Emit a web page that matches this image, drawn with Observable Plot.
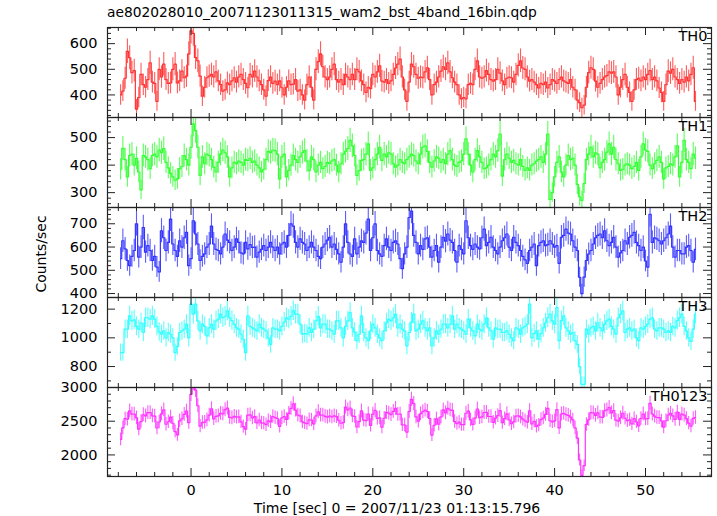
<!DOCTYPE html>
<html><head><meta charset="utf-8">
<script src="https://cdn.jsdelivr.net/npm/d3@7"></script>
<script src="https://cdn.jsdelivr.net/npm/@observablehq/plot@0.6"></script>
<style>
body{margin:0;background:#fff;}
#wrap{position:relative;width:717px;height:516px;font-family:"DejaVu Sans",sans-serif;color:#000;}
.txt{position:absolute;white-space:nowrap;line-height:1;}
</style>
</head><body><div id="wrap"></div>
<script>
// ---- data: count rates (counts/sec), 0.25 s bins starting at t = -7.75 s ----
const binWidth = 0.25;
const tStart = -7.75;
const th0 = [400,415,465,570, 545,487,495,345, 390,480,440,430, 460,525,450,445, 375,500,470,520, 460,445,447,500, 520,447,455,493, 467,473,560,650, 640,546,533,473, 395,430,467,473, 480,470,490,455, 440,415,420,447, 440,455,467,450, 470,480,460,445, 428,480,470,493, 470,455,440,420, 395,456,470,445, 454,440,455,428, 400,430,455,440, 442,460,415,420, 400,380,440,470, 430,380,500,530, 560,510,470,460, 470,500,520,460, 450,460,440,480, 470,460,480,460, 500,490,455,440, 410,430,425,480, 470,490,513,454, 450,460,445,455, 480,505,520,540, 470,420,375,450, 520,510,480,465, 470,467,490,506, 460,400,440,450, 470,493,510,500, 525,490,467,450, 440,400,385,390, 385,440,445,440, 500,533,470,465, 470,495,480,460, 454,460,500,485, 455,440,465,470, 467,450,480,515, 533,505,500,470, 454,460,450,440, 427,445,440,450, 427,440,460,454, 445,460,470,455, 450,445,460,430, 420,380,370,350, 360,430,487,506, 500,454,430,445, 460,470,475,490, 485,490,470,400, 430,460,480,430, 410,375,420,460, 465,455,470,460, 480,495,460,470, 455,427,410,375, 440,493,485,500, 470,460,445,460, 450,470,455,480, 506,375];
const th1 = [385,461,420,357, 435,440,400,425, 375,310,435,430, 420,387,435,440, 430,455,445,460, 410,390,370,357, 345,350,387,395, 435,420,400,465, 550,525,465,363, 430,405,440,435, 420,393,375,410, 440,455,445,430, 357,390,410,405, 415,410,400,420, 417,425,410,415, 400,390,375,385, 420,450,445,455, 453,440,350,430, 440,357,381,400, 435,420,410,430, 445,453,415,380, 430,420,375,400, 410,387,395,410, 405,415,420,400, 375,405,440,450, 460,490,470,435, 363,380,417,420, 440,477,381,390, 420,440,465,417, 440,430,445,440, 405,393,400,420, 410,405,420,430, 440,435,415,405, 440,465,470,450, 410,393,415,430, 425,410,420,405, 440,453,420,400, 395,410,415,440, 495,440,400,375, 420,453,430,410, 387,390,400,420, 440,430,453,513, 360,420,440,425, 410,417,405,400, 420,395,381,390, 381,400,405,415, 420,430,410,440, 513,275,300,357, 410,430,375,357, 400,435,420,425, 400,330,285,272, 333,420,440,465, 430,445,440,390, 410,420,447,477, 440,465,420,405, 381,385,400,405, 400,387,395,410, 381,430,477,455, 450,400,387,405, 417,430,410,350, 390,395,405,400, 430,470,357,410, 490,420,410,387, 440,425];
const th2 = [550,627,592,542, 520,560,585,700, 557,600,684,578, 606,585,542,560, 514,493,670,640, 585,620,720,613, 585,560,627,600, 640,663,520,550, 713,656,613,542, 560,571,600,613, 690,613,590,585, 571,600,656,630, 620,585,600,635, 620,575,571,620, 592,610,598,600, 557,578,590,606, 585,600,620,600, 585,600,571,613, 620,600,650,700, 690,620,600,635, 620,613,585,600, 620,600,585,560, 550,600,613,630, 642,600,613,590, 571,535,600,700, 620,570,560,635, 571,600,627,620, 660,720,585,640, 700,585,571,560, 606,635,600,585, 620,627,613,550, 507,571,600,727, 755,650,620,571, 606,590,635,640, 600,557,585,606, 535,600,642,625, 656,630,620,585, 535,606,590,571, 713,640,606,590, 613,600,592,640, 677,606,620,642, 600,585,571,600, 627,640,656,600, 585,642,620,606, 585,560,545,530, 585,600,613,520, 606,620,627,606, 610,627,613,600, 606,530,642,650, 677,660,656,627, 600,585,470,400, 471,542,570,585, 613,640,650,656, 640,670,627,606, 620,642,600,557, 575,585,627,613, 642,650,663,620, 606,585,600,540, 514,741,620,640, 635,627,613,627, 640,656,690,600, 557,585,585,571, 571,600,606,585, 535,590];
const th3 = [897,897,1060,1060, 1153,1118,1125,1080, 1060,1105,1037,1140, 1140,1130,1153,1130, 1080,1040,1025,1048, 1000,1037,1025,1000, 897,940,1037,1048, 1060,1095,1000,1235, 1165,1235,1118,1048, 1095,1080,1013,1070, 1095,1060,1118,1130, 1165,1140,1150,1188, 1140,1120,1095,1070, 1060,1025,990,897, 1153,1080,1070,1060, 1048,1095,1070,1060, 1048,1000,955,1070, 1060,1060,1048,1080, 1110,1140,1130,1150, 1190,1165,1165,1095, 1025,1030,1025,1070, 1037,1060,1118,1150, 1070,1095,1095,1060, 1060,1048,1025,1118, 1118,1070,1000,1080, 1118,1176,1070,1040, 980,1025,1153,1037, 1000,980,1048,1095, 1070,1025,1000,980, 1048,1105,1130,1118, 1140,1165,1070,1095, 1060,1048,944,1037, 1110,1165,1048,1060, 1095,1118,1070,1048, 1070,944,1000,1048, 1025,1060,1095,1095, 1070,1095,1153,1060, 1095,1070,1060,1048, 1025,1130,1070,1048, 1013,1095,1060,1048, 1095,1140,1070,1048, 990,1070,1060,1060, 1037,1037,1048,1025, 1000,980,1070,1060, 1025,1070,1080,1095, 1235,1000,1030,1048, 990,1030,1070,1105, 1140,1165,1118,1095, 1210,980,1120,1153, 1070,1048,1025,1037, 980,955,800,676, 676,1060,1025,1070, 1080,1048,1105,1070, 1048,1095,1118,1130, 1080,1060,1025,1140, 1165,1188,1037,1060, 1070,1048,1060,1000, 980,1070,1060,1080, 1095,1130,1140,1060, 1048,1070,1070,1060, 1037,1048,1037,1080, 1070,1120,1140,1165, 1080,1048,1000,975, 1060,1165];
// TH0123 is the sum of the four bands
const nBins = Math.min(th0.length, th1.length, th2.length, th3.length);
const th0123 = th0.slice(0, nBins).map((v, i) => v + th1[i] + th2[i] + th3[i]);

const bandNames = ["TH0", "TH1", "TH2", "TH3", "TH0123"];
const bandValues = [th0, th1, th2, th3, th0123];
const bandColors = ["#ff3333", "#33ff33", "#3333ff", "#33ffff", "#ff33ff"];
const yDomains = [[312, 663], [246, 573], [383, 770], [654, 1281], [1680, 3000]];
const yMajorTicks = [[400, 500, 600], [300, 400, 500], [400, 500, 600, 700], [800, 1000, 1200], [2000, 2500, 3000]];
const yMinorTicks = [
  [320,340,360,380,420,440,460,480,520,540,560,580,620,640,660],
  [260,280,320,340,360,380,420,440,460,480,520,540,560],
  [420,440,460,480,520,540,560,580,620,640,660,680,720,740,760],
  [700,900,1100],
  [1700,1800,1900,2100,2200,2300,2400,2600,2700,2800,2900]
];
const xDomain = [-9.19, 57.26];
const xMajorTicks = [0, 10, 20, 30, 40, 50];
const xMinorTicks = [-8,-6,-4,-2,2,4,6,8,12,14,16,18,22,24,26,28,32,34,36,38,42,44,46,48,52,54,56];
const titleText = "ae802028010_20071123011315_wam2_bst_4band_16bin.qdp";
const xLabelText = "Time [sec] 0 = 2007/11/23 01:13:15.796";
const yLabelText = "Counts/sec";

// ---- layout ----
const panelTops = [27, 117, 207, 297, 387];
const panelBottoms = [117, 207, 297, 387, 476];
const mLeft = 107, mRight = 6, totalW = 717;
const plotW = totalW - mLeft - mRight;
const frameColor = "#222";
const wrap = document.getElementById("wrap");

function addText(text, css) {
  const d = document.createElement("div");
  d.className = "txt";
  d.textContent = text;
  Object.assign(d.style, css);
  wrap.appendChild(d);
  return d;
}

bandValues.forEach((vals, k) => {
  const rows = vals.map((v, i) => {
    const err = Math.sqrt(v * binWidth) / binWidth;
    return {t: tStart + i * binWidth, v, lo: v - err, hi: v + err};
  });
  const H = panelBottoms[k] - panelTops[k];
  const last = k === bandValues.length - 1;
  const marks = [
    Plot.ruleX(rows, {x: "t", y1: "lo", y2: "hi", stroke: bandColors[k], strokeOpacity: 0.8, strokeWidth: 1.1, clip: true}),
    Plot.line(rows, {x: "t", y: "v", curve: "step", stroke: bandColors[k], strokeWidth: 1.2, clip: true}),
    Plot.tickY(yMajorTicks[k], {y: d => d, insetRight: plotW - 8, stroke: frameColor}),
    Plot.tickY(yMajorTicks[k], {y: d => d, insetLeft: plotW - 8, stroke: frameColor}),
    Plot.tickY(yMinorTicks[k], {y: d => d, insetRight: plotW - 4, stroke: frameColor}),
    Plot.tickY(yMinorTicks[k], {y: d => d, insetLeft: plotW - 4, stroke: frameColor}),
    Plot.tickX(xMajorTicks, {x: d => d, insetBottom: H - 8, stroke: frameColor}),
    Plot.tickX(xMajorTicks, {x: d => d, insetTop: H - 8, stroke: frameColor}),
    Plot.tickX(xMinorTicks, {x: d => d, insetBottom: H - 4, stroke: frameColor}),
    Plot.tickX(xMinorTicks, {x: d => d, insetTop: H - 4, stroke: frameColor}),
    Plot.frame({stroke: frameColor, strokeWidth: 1.2}),
    Plot.axisY(yMajorTicks[k], {anchor: "left", tickSize: 0, tickPadding: 10, label: null, fontSize: 14.5, tickFormat: d => String(d)}),
    Plot.text([bandNames[k]], {frameAnchor: "top-right", text: d => d, dx: -4, dy: 3, fontSize: 14.5, textAnchor: "end"})
  ];
  if (last) {
    marks.push(Plot.axisX(xMajorTicks, {anchor: "bottom", tickSize: 0, tickPadding: 8, label: null, fontSize: 14.5, tickFormat: d => String(d)}));
  }
  const svg = Plot.plot({
    width: totalW,
    height: H + 2 + (last ? 40 : 0),
    marginLeft: mLeft, marginRight: mRight, marginTop: 1, marginBottom: 1 + (last ? 40 : 0),
    x: {domain: xDomain, axis: null},
    y: {domain: yDomains[k], axis: null},
    style: {background: "transparent", overflow: "visible", fontFamily: "DejaVu Sans, sans-serif", fontSize: "14px", color: "#000"},
    marks
  });
  svg.style.position = "absolute";
  svg.style.left = "0px";
  svg.style.top = (panelTops[k] - 1) + "px";
  wrap.appendChild(svg);
});

addText(titleText, {left: "107px", top: "6px", fontSize: "13.8px"});
addText(xLabelText, {left: "397px", top: "501px", fontSize: "14px", transform: "translateX(-50%)"});
addText(yLabelText, {left: "41px", top: "254px", fontSize: "14px", transform: "translate(-50%,-50%) rotate(-90deg)"});
</script>
</body></html>
